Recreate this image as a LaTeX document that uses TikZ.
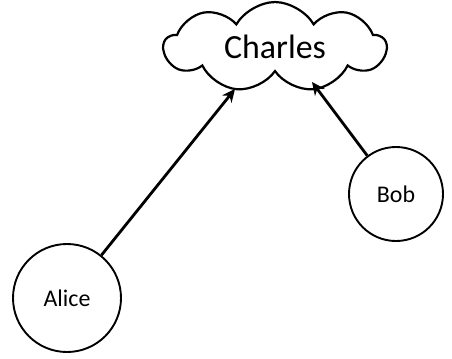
\documentclass[tikz,border=0pt]{standalone}
\usepackage{fontspec}
\setmainfont{Carlito}
\usetikzlibrary{shapes.symbols, arrows.meta}

\begin{document}
\begin{tikzpicture}[x=1bp, y=1bp]

        \useasboundingbox (0,0) rectangle (452,358);

        % the cloud at the top
        \node[cloud, draw, line width=2.2bp, cloud puffs=9, cloud puff arc=120, aspect=2.2,
              minimum width=222bp, minimum height=88bp, inner sep=0pt,
              font=\fontsize{34}{40}\selectfont] (Charles) at (275,311) {Charles};

        % the two people
        \node[circle, draw, line width=1.9bp, minimum size=94bp, inner sep=0pt,
              font=\fontsize{24}{28}\selectfont] (Bob) at (396,164) {Bob};
        \node[circle, draw, line width=1.9bp, minimum size=108bp, inner sep=0pt,
              font=\fontsize{24}{28}\selectfont] (Alice) at (67,60) {Alice};

        \coordinate (AliceTip) at (235,269);
        \coordinate (BobTip) at (312,276);

        \draw[-{Stealth[length=13bp, width=12bp]}, line width=2.8bp] (Alice) -- (AliceTip);
        \draw[-{Stealth[length=13bp, width=12bp]}, line width=2.8bp] (Bob) -- (BobTip);

\end{tikzpicture}
\end{document}
